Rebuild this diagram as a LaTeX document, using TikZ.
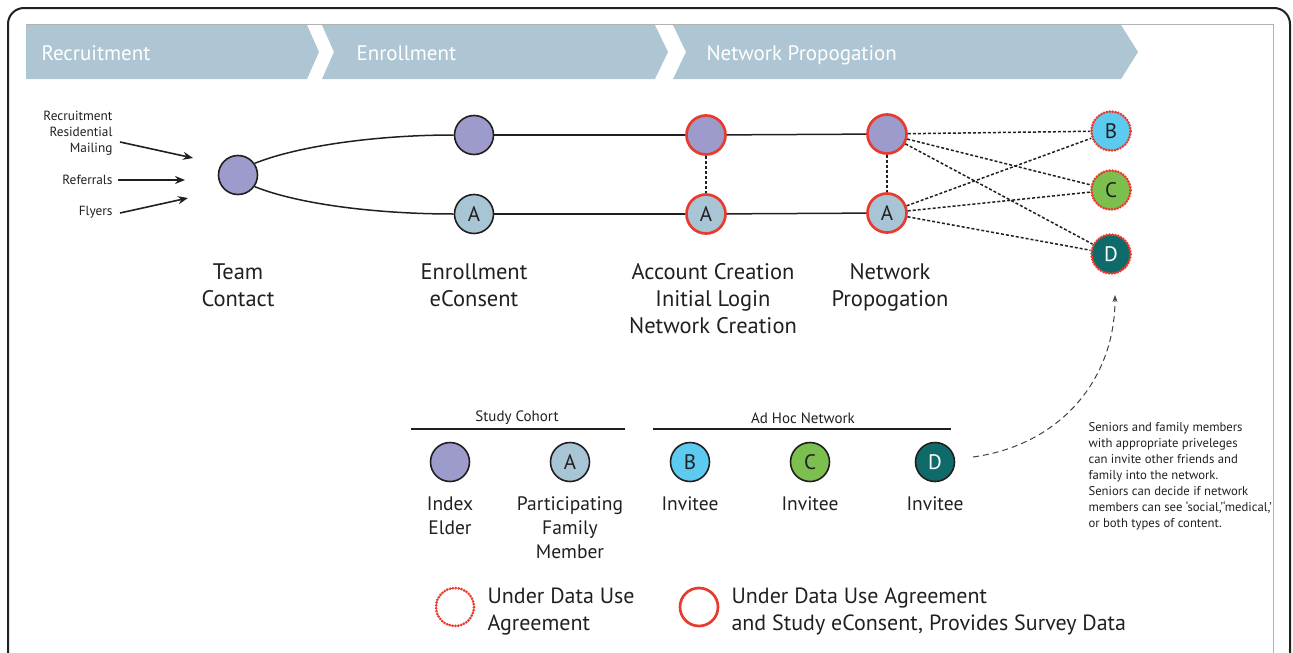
\documentclass[tikz,border=0pt]{standalone}
\usepackage{fontspec}
\setmainfont{PT Sans}
\usetikzlibrary{arrows.meta}
\definecolor{banner}{HTML}{AEC6D4}
\definecolor{elderc}{HTML}{9D9BCB}
\definecolor{famc}{HTML}{A8C5D6}
\definecolor{invB}{HTML}{5DCBF0}
\definecolor{invC}{HTML}{7BC04F}
\definecolor{invD}{HTML}{0F6B6A}
\definecolor{dua}{HTML}{E63B2E}
\definecolor{ink}{HTML}{231F20}
\newcommand{\fs}[2]{\fontsize{#1}{#2}\selectfont}
\begin{document}
\begin{tikzpicture}[x=1pt,y=-1pt,
  person/.style={circle,draw=ink,line width=1.6pt,minimum size=39pt,inner sep=0pt,text=ink,font=\fs{21}{21}},
  elder/.style={person,fill=elderc},
  fam/.style={person,fill=famc},
  consent/.style={draw=dua,line width=2.7pt},
  duaonly/.style={draw=dua,line width=3pt,dash pattern=on 0pt off 2.9pt,line cap=round},
  bannertext/.style={anchor=base west,text=white,font=\fs{21}{21}},
  srclabel/.style={anchor=east,align=right,text=ink,font=\fs{13.3}{16}},
  stagelabel/.style={align=center,text=ink,font=\fs{22.5}{27}},
  leglabel/.style={align=center,text=ink,font=\fs{19.5}{24}},
  legtitle/.style={text=ink,font=\fs{15}{16}},
  srcarrow/.style={draw=ink,line width=1.6pt,-{Stealth[length=10pt,width=8pt]}},
  path/.style={draw=ink,line width=1.5pt},
  link/.style={draw=ink,line width=1.5pt,dash pattern=on 3pt off 2pt},
]
\useasboundingbox (0,0) rectangle (1293,653);
\clip (0,0) rectangle (1293,653);
% frames
\draw[ink,line width=2pt,rounded corners=16pt] (8,700) -- (8,8) -- (1290,8) -- (1290,700);
\draw[black!30,line width=1pt] (26,24) -- (1273,24) -- (1273,700);
% banner
\fill[banner] (26,25) -- (307,25) -- (319,52) -- (307,79) -- (26,79) -- cycle;
\fill[banner] (322,25) -- (655,25) -- (668,52) -- (655,79) -- (322,79) -- (334,52) -- cycle;
\fill[banner] (673,25) -- (1121,25) -- (1138,52) -- (1121,79) -- (673,79) -- (686,52) -- cycle;
\node[bannertext] (b1) at (38,60) {Recruitment};
\node[bannertext] (b2) at (353,60) {Enrollment};
\node[bannertext] (b3) at (703,60) {Network Propogation};
% sources
\node[srclabel] (src1) at (116,133) {Recruitment\\Residential\\Mailing};
\node[srclabel] (src2) at (116,180) {Referrals};
\node[srclabel] (src3) at (116,212) {Flyers};
\coordinate (s1) at (120,142);
\coordinate (e1) at (193,158);
\coordinate (s2) at (118,180);
\coordinate (e2) at (185,180);
\coordinate (s3) at (120,213);
\coordinate (e3) at (188,198);
\draw[srcarrow] (s1) -- (e1);
\draw[srcarrow] (s2) -- (e2);
\draw[srcarrow] (s3) -- (e3);
% main nodes
\node[elder] (tc) at (238,175) {};
\node[elder] (en1) at (474,135) {};
\node[fam] (en2) at (474,214) {A};
\node[elder,consent] (ac1) at (706,135) {};
\node[fam,consent] (ac2) at (706,214) {A};
\node[elder,consent] (np1) at (887,134) {};
\node[fam,consent] (np2) at (887,213) {A};
\node[person,fill=invB,duaonly] (nb) at (1111,131) {B};
\node[person,fill=invC,duaonly] (nc) at (1111,190) {C};
\node[person,fill=invD,duaonly,text=white] (nd) at (1111,254) {D};
% connectors
\draw[path] (tc.35) .. controls +(45,-18) and +(-75,0) .. (en1.west);
\draw[path] (tc.-35) .. controls +(45,18) and +(-75,0) .. (en2.west);
\draw[path] (en1) -- (ac1);
\draw[path] (ac1) -- (np1);
\draw[path] (en2) -- (ac2);
\draw[path] (ac2) -- (np2);
\draw[link] (ac1) -- (ac2);
\draw[link] (np1) -- (np2);
\foreach \t in {nb,nc,nd} {
  \draw[link] (np1) -- (\t);
  \draw[link] (np2) -- (\t);
}
% stage labels
\node[stagelabel] (l1) at (238,287.5) {\strut Team\\\strut Contact};
\node[stagelabel] (l2) at (474,287.5) {\strut Enrollment\\\strut eConsent};
\node[stagelabel] (l3) at (713,301) {\strut Account Creation\\\strut Initial Login\\\strut Network Creation};
\node[stagelabel] (l4) at (890,287.5) {\strut Network\\\strut Propogation};
% legend
\node[legtitle] (t1) at (517,418) {Study Cohort};
\node[legtitle] (t2) at (803,418) {Ad Hoc Network};
\draw[ink,line width=1.4pt] (411,429) -- (625,429);
\draw[ink,line width=1.4pt] (653,429) -- (951,429);
\node[elder] (g1) at (450,462) {};
\node[fam] (g2) at (570,462) {A};
\node[person,fill=invB] (g3) at (690,462) {B};
\node[person,fill=invC] (g4) at (810,462) {C};
\node[person,fill=invD,text=white] (g5) at (935,462) {D};
\node[leglabel] (gl1) at (450,518) {\strut Index\\\strut Elder};
\node[leglabel] (gl2) at (570,530) {\strut Participating\\\strut Family\\\strut Member};
\node[leglabel] (gl3) at (690,506) {\strut Invitee};
\node[leglabel] (gl4) at (810,506) {\strut Invitee};
\node[leglabel] (gl5) at (935,506) {\strut Invitee};
% note
\coordinate (ds) at (973,457);
\coordinate (de) at (1115,295);
\draw[ink!85,line width=1pt,dash pattern=on 6pt off 4pt,-{Stealth[length=7pt,width=5pt]}] (ds) .. controls (1060,445) and (1115,380) .. (de);
\node[anchor=west,align=left,text=ink,font=\fs{12.7}{16}] (note) at (1085,476) {Seniors and family members\\with appropriate priveleges\\can invite other friends and\\family into the network.\\Seniors can decide if network\\members can see ‘social,’‘medical,’\\or both types of content.};
% bottom legend
\node[circle,minimum size=38pt,inner sep=0pt,duaonly] (k1) at (455,607) {};
\node[anchor=west,align=left,text=ink,font=\fs{22}{27}] (kt1) at (484,612) {\strut Under Data Use\\\strut Agreement};
\node[circle,minimum size=38pt,inner sep=0pt,consent] (k2) at (699,607) {};
\node[anchor=west,align=left,text=ink,font=\fs{22}{27}] (kt2) at (728,612) {\strut Under Data Use Agreement\\\strut and Study eConsent, Provides Survey Data};
\end{tikzpicture}
\end{document}
